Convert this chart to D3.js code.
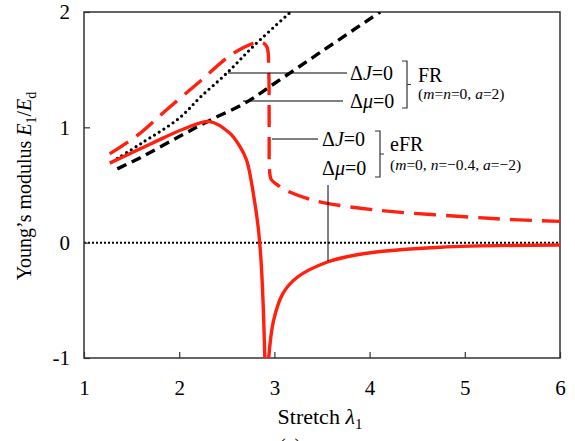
<!DOCTYPE html>
<html>
<head>
<meta charset="utf-8">
<script src="https://cdn.jsdelivr.net/npm/d3@7"></script>
<style>
  body { margin: 0; background: #fff; }
  svg text { font-family: "Liberation Serif", "Times New Roman", serif; fill: #000; }
</style>
</head>
<body>
<svg id="svg1" width="575" height="441"></svg>
<script>
// x ticks and y ticks
const xTicks = [1, 2, 3, 4, 5, 6];
const yTicks = [-1, 0, 1, 2];

// FR, dJ=0 (black dotted)
const frJ = [[1.35, 0.73], [1.6, 0.86], [2.0, 1.08], [2.22, 1.26], [2.5, 1.47], [2.8, 1.72], [3.17, 2.0]];
// FR, dmu=0 (black dashed)
const frMu = [[1.35, 0.64], [1.6, 0.74], [2.0, 0.92], [2.32, 1.06], [2.69, 1.21], [3.0, 1.38], [3.5, 1.66], [4.11, 2.0]];
// eFR, dJ=0 (red dashed)
const efrJ = [[1.27, 0.77], [1.56, 0.93], [1.85, 1.14], [2.22, 1.40], [2.53, 1.62], [2.75, 1.72], [2.86, 1.74], [2.92, 1.70],
  [2.94, 1.5], [2.945, 1.0], [2.95, 0.62], [2.965, 0.55], [3.05, 0.49], [3.13, 0.45], [3.4, 0.37], [3.79, 0.31],
  [4.3, 0.265], [5.0, 0.225], [5.5, 0.2], [6.0, 0.185]];
// eFR, dmu=0 (red solid), two branches around the singularity
const efrMuLeft = [[1.27, 0.69], [1.71, 0.86], [2.06, 0.99], [2.32, 1.05], [2.53, 0.95], [2.64, 0.83], [2.71, 0.71],
  [2.78, 0.42], [2.83, 0.13], [2.86, -0.16], [2.885, -0.6], [2.90, -1.02], [2.905, -1.1]];
const efrMuRight = [[2.935, -1.1], [2.94, -1.0], [2.99, -0.68], [3.09, -0.44], [3.24, -0.30], [3.55, -0.17], [3.9, -0.10],
  [4.74, -0.04], [6.0, -0.02]];

const svg = d3.select("#svg1");
const margin = { top: 12, right: 15, bottom: 83, left: 84 };
const width = 575 - margin.left - margin.right;
const height = 441 - margin.top - margin.bottom;

const x = d3.scaleLinear().domain([1, 6]).range([margin.left, margin.left + width]);
const y = d3.scaleLinear().domain([-1, 2]).range([margin.top + height, margin.top]);

svg.append("defs").append("clipPath").attr("id", "clip")
  .append("rect").attr("x", margin.left).attr("y", margin.top).attr("width", width).attr("height", height);

// zero line
svg.append("line")
  .attr("x1", x(1)).attr("x2", x(6)).attr("y1", y(0)).attr("y2", y(0))
  .attr("stroke", "#000").attr("stroke-width", 2).attr("stroke-dasharray", "2,2");

// axes with inward ticks
const gx = svg.append("g").attr("transform", `translate(0,${y(-1)})`)
  .call(d3.axisBottom(x).tickValues(xTicks).tickSizeInner(-6).tickSizeOuter(0).tickPadding(22).tickFormat(d3.format("d")));
const gy = svg.append("g").attr("transform", `translate(${x(1)},0)`)
  .call(d3.axisLeft(y).tickValues(yTicks).tickSizeInner(-6).tickSizeOuter(0).tickPadding(14).tickFormat(d3.format("d")));
[gx, gy].forEach(g => {
  g.attr("font-family", null);
  g.select(".domain").remove();
  g.selectAll("line").attr("stroke", "#333").attr("stroke-width", 1.2);
  g.selectAll("text").style("font-size", "21px");
});
gy.selectAll("text").text(d => d < 0 ? "-" + Math.abs(d) : d);

// frame
svg.append("rect")
  .attr("x", x(1)).attr("y", y(2)).attr("width", width).attr("height", height)
  .attr("fill", "none").attr("stroke", "#333").attr("stroke-width", 1.5);

const line = d3.line().x(d => x(d[0])).y(d => y(d[1])).curve(d3.curveCatmullRom.alpha(0.5));
const plot = svg.append("g").attr("clip-path", "url(#clip)");

plot.append("path").datum(frMu).attr("d", line)
  .attr("fill", "none").attr("stroke", "#000").attr("stroke-width", 3.4).attr("stroke-dasharray", "10,6");
plot.append("path").datum(frJ).attr("d", line)
  .attr("fill", "none").attr("stroke", "#000").attr("stroke-width", 3.2).attr("stroke-linecap", "round")
  .attr("stroke-dasharray", "0,5.5");
plot.append("path").datum(efrJ).attr("d", line)
  .attr("fill", "none").attr("stroke", "#ff2010").attr("stroke-width", 3.4).attr("stroke-dasharray", "22,10");
[efrMuLeft, efrMuRight].forEach(b => {
  plot.append("path").datum(b).attr("d", line)
    .attr("fill", "none").attr("stroke", "#ff2010").attr("stroke-width", 3.4);
});

// annotation leader lines
const leaders = [[228, 73, 347, 73], [243, 101, 343, 101], [272, 139, 318, 139], [328, 185, 328, 261]];
leaders.forEach(l => {
  svg.append("line").attr("x1", l[0]).attr("y1", l[1]).attr("x2", l[2]).attr("y2", l[3])
    .attr("stroke", "#000").attr("stroke-width", 1);
});

// brackets
function bracket(bx, y0, y1) {
  const ym = (y0 + y1) / 2;
  svg.append("path")
    .attr("d", `M${bx - 5},${y0}H${bx}V${y1}H${bx - 5}M${bx},${ym}H${bx + 4}`)
    .attr("fill", "none").attr("stroke", "#333").attr("stroke-width", 1.2);
}
bracket(407, 61, 108);
bracket(380, 131, 177);

function label(tx, ty, sym) {
  const t = svg.append("text").attr("x", tx).attr("y", ty).style("font-size", "20px");
  t.append("tspan").text("Δ");
  t.append("tspan").style("font-style", "italic").text(sym);
  t.append("tspan").text("=0");
}
label(350, 80, "J");
label(350, 108, "μ");
label(322, 146, "J");
label(322, 175, "μ");

svg.append("text").attr("x", 418).attr("y", 82).style("font-size", "20px").text("FR");
svg.append("text").attr("x", 390).attr("y", 151).style("font-size", "20px").text("eFR");

function params(tx, ty, parts) {
  const t = svg.append("text").attr("x", tx).attr("y", ty).style("font-size", "15.5px");
  parts.forEach(p => t.append("tspan").style("font-style", p[1] ? "italic" : "normal").text(p[0]));
}
params(418, 99, [["(", 0], ["m", 1], ["=", 0], ["n", 1], ["=0, ", 0], ["a", 1], ["=2)", 0]]);
params(390, 170, [["(", 0], ["m", 1], ["=0, ", 0], ["n", 1], ["=\u22120.4, ", 0], ["a", 1], ["=\u22122)", 0]]);

// axis titles
const xt = svg.append("text").attr("x", 320).attr("y", 424).attr("text-anchor", "middle").style("font-size", "22px");
xt.append("tspan").text("Stretch ");
xt.append("tspan").style("font-style", "italic").text("λ");
xt.append("tspan").attr("dy", 5).style("font-size", "15px").text("1");

const yt = svg.append("text").attr("transform", "translate(31,186) rotate(-90)")
  .attr("text-anchor", "middle").style("font-size", "20px");
yt.append("tspan").text("Young’s modulus ");
yt.append("tspan").style("font-style", "italic").text("E");
yt.append("tspan").attr("dy", 5).style("font-size", "14px").text("1");
yt.append("tspan").attr("dy", -5).text("/");
yt.append("tspan").style("font-style", "italic").text("E");
yt.append("tspan").attr("dy", 5).style("font-size", "14px").text("d");

// panel label, cut at the bottom edge as in the source figure
svg.append("text").attr("x", 290).attr("y", 453).attr("text-anchor", "middle").style("font-size", "20px").text("(a)");
</script>
</body>
</html>
